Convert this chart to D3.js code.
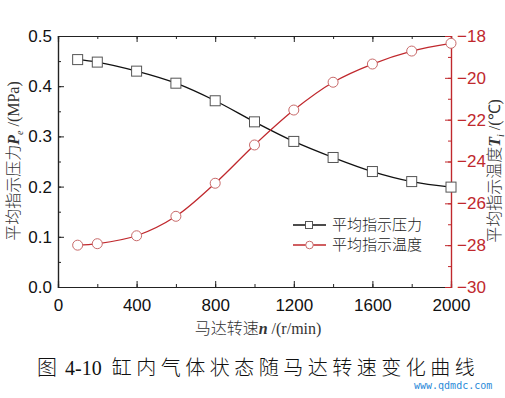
<!DOCTYPE html>
<html>
<head>
<meta charset="utf-8">
<script src="https://cdn.jsdelivr.net/npm/d3@7"></script>
<style>
  body { margin: 0; background: #fff; }
  svg { display: block; }
  text { white-space: pre; }
</style>
</head>
<body>
<div id="chart"></div>
<script>
// motor speed (r/min)
var speeds = [100, 200, 400, 600, 800, 1000, 1200, 1400, 1600, 1800, 2000];
// mean indicated pressure (MPa)
var pressure = [0.453, 0.448, 0.430, 0.406, 0.371, 0.329, 0.290, 0.258, 0.230, 0.210, 0.199];
// mean indicated temperature (°C)
var temperature = [-28.0, -27.93, -27.55, -26.62, -25.04, -23.21, -21.54, -20.21, -19.34, -18.72, -18.35];

var xTicks = [0, 400, 800, 1200, 1600, 2000];
var yLeftTicks = [0.0, 0.1, 0.2, 0.3, 0.4, 0.5];
var yRightTicks = [-30, -28, -26, -24, -22, -20, -18];

var width = 505, height = 398;
var plotL = 58, plotR = 451, plotT = 36, plotB = 287;
var red = "#c0282d";
var tickFont = "'Liberation Sans', Arial, sans-serif";
var cjk = "'Noto Sans CJK SC', sans-serif";
var serif = "'Liberation Serif', 'Times New Roman', serif";

var svg = d3.select("#chart").append("svg")
  .attr("width", width)
  .attr("height", height);

var x = d3.scaleLinear().domain([0, 2000]).range([plotL, plotR]);
var yL = d3.scaleLinear().domain([0, 0.5]).range([plotB, plotT]);
var yR = d3.scaleLinear().domain([-30, -18]).range([plotB, plotT]);

// minor ticks
var xMinor = d3.range(0, 2001, 200);
var yLMinor = d3.range(0, 0.5001, 0.05);
var yRMinor = d3.range(-30, -17.9, 1);

// bottom axis
var gx = svg.append("g")
  .attr("transform", "translate(0," + plotB + ")")
  .call(d3.axisBottom(x).tickValues(xTicks).tickSize(-6).tickPadding(12).tickFormat(d3.format("d")));
gx.append("g").call(d3.axisBottom(x).tickValues(xMinor).tickSize(-3).tickFormat(""));

// top axis (frame)
var gt = svg.append("g")
  .attr("transform", "translate(0," + plotT + ")")
  .call(d3.axisTop(x).tickValues(xTicks).tickSize(-6).tickFormat(""));
gt.append("g").call(d3.axisTop(x).tickValues(xMinor).tickSize(-3).tickFormat(""));

// left axis
var gl = svg.append("g")
  .attr("transform", "translate(" + plotL + ",0)")
  .call(d3.axisLeft(yL).tickValues(yLeftTicks).tickSize(-6).tickPadding(6).tickFormat(d3.format(".1f")));
gl.append("g").call(d3.axisLeft(yL).tickValues(yLMinor).tickSize(-3).tickFormat(""));

// right axis (red)
var gr = svg.append("g")
  .attr("transform", "translate(" + plotR + ",0)")
  .call(d3.axisRight(yR).tickValues(yRightTicks).tickSize(-6).tickPadding(6).tickFormat(d3.format("d")));
gr.append("g").call(d3.axisRight(yR).tickValues(yRMinor).tickSize(-3).tickFormat(""));

svg.selectAll(".domain").attr("stroke", "#222").attr("stroke-width", 1.2);
svg.selectAll(".tick line").attr("stroke", "#222");
svg.selectAll(".tick text")
  .style("font-family", tickFont)
  .style("font-size", "17px")
  .attr("fill", "#111");
gr.selectAll(".domain, .tick line").attr("stroke", red);
gr.selectAll(".tick text").attr("fill", red);
gx.selectAll(".tick text").attr("dy", "0.71em");

// lines
var line = d3.line().curve(d3.curveCatmullRom);

var pPts = speeds.map(function(s, i) { return [x(s), yL(pressure[i])]; });
var tPts = speeds.map(function(s, i) { return [x(s), yR(temperature[i])]; });

svg.append("path")
  .attr("d", line(pPts))
  .attr("fill", "none")
  .attr("stroke", "#111")
  .attr("stroke-width", 1.3);

svg.append("path")
  .attr("d", line(tPts))
  .attr("fill", "none")
  .attr("stroke", red)
  .attr("stroke-width", 1.3);

svg.append("g").selectAll("rect")
  .data(pPts)
  .enter().append("rect")
    .attr("x", function(d) { return d[0] - 5; })
    .attr("y", function(d) { return d[1] - 5; })
    .attr("width", 10)
    .attr("height", 10)
    .attr("fill", "#fff")
    .attr("stroke", "#555")
    .attr("stroke-width", 1);

svg.append("g").selectAll("circle")
  .data(tPts)
  .enter().append("circle")
    .attr("cx", function(d) { return d[0]; })
    .attr("cy", function(d) { return d[1]; })
    .attr("r", 5)
    .attr("fill", "#fff")
    .attr("stroke", "#c86a6a")
    .attr("stroke-width", 1);

// legend
var legend = svg.append("g").attr("transform", "translate(293,225)");
legend.append("line").attr("x1", 0).attr("x2", 33).attr("y1", 0).attr("y2", 0)
  .attr("stroke", "#111").attr("stroke-width", 1.3);
legend.append("rect").attr("x", 12.5).attr("y", -3.5).attr("width", 7).attr("height", 7)
  .attr("fill", "#fff").attr("stroke", "#555");
legend.append("text").attr("x", 39).attr("y", 0).attr("dy", "0.35em")
  .style("font-family", cjk).style("font-size", "15px").style("font-weight", 300)
  .attr("fill", "#222").text("平均指示压力");
legend.append("line").attr("x1", 0).attr("x2", 33).attr("y1", 20).attr("y2", 20)
  .attr("stroke", red).attr("stroke-width", 1.3);
legend.append("circle").attr("cx", 16.5).attr("cy", 20).attr("r", 3.8)
  .attr("fill", "#fff").attr("stroke", "#c86a6a");
legend.append("text").attr("x", 39).attr("y", 20).attr("dy", "0.35em")
  .style("font-family", cjk).style("font-size", "15px").style("font-weight", 300)
  .attr("fill", "#222").text("平均指示温度");

// rotated axis title, centred by measured length
function vTitle(cx, cy, cn, sym, sub, unit) {
  var t = svg.append("text")
    .attr("transform", "translate(" + cx + "," + cy + ") rotate(-90)")
    .style("font-size", "16px")
    .attr("fill", "#333");
  t.append("tspan").style("font-family", cjk).style("font-weight", 300).text(cn);
  t.append("tspan").style("font-family", serif).style("font-style", "italic").style("font-weight", "bold").text(sym);
  t.append("tspan").style("font-family", serif).style("font-style", "italic").style("font-size", "10px").attr("dy", 4).text(sub);
  t.append("tspan").style("font-family", serif).attr("dy", -4).text(" /" + unit);
  var len = t.node().getComputedTextLength();
  t.attr("x", -len / 2);
  return t;
}
vTitle(19, 161, "平均指示压力", "P", "e", "(MPa)");
vTitle(500, 171, "平均指示温度", "T", "i", "(℃)");

var xt = svg.append("text")
  .attr("x", 258).attr("y", 334)
  .attr("text-anchor", "middle")
  .style("font-size", "16px")
  .attr("fill", "#333");
xt.append("tspan").style("font-family", cjk).style("font-weight", 300).text("马达转速");
xt.append("tspan").style("font-family", serif).style("font-style", "italic").style("font-weight", "bold").text("n");
xt.append("tspan").style("font-family", serif).text(" /(r/min)");

// caption
var cap = svg.append("text")
  .attr("x", 37).attr("y", 375)
  .style("font-size", "20px")
  .attr("fill", "#111");
cap.append("tspan").style("font-family", cjk).style("font-weight", 300).text("图");
cap.append("tspan").style("font-family", serif).attr("dx", 8).text("4-10");
cap.append("tspan").style("font-family", cjk).style("font-weight", 300).attr("dx", 10)
  .style("letter-spacing", "4.5px").text("缸内气体状态随马达转速变化曲线");

// watermark
svg.append("text")
  .attr("x", 414).attr("y", 389)
  .style("font-family", "'DejaVu Sans Mono', monospace")
  .style("font-size", "10px")
  .attr("fill", "#2a8ad8")
  .text("www.qdmdc.com");
</script>
</body>
</html>
